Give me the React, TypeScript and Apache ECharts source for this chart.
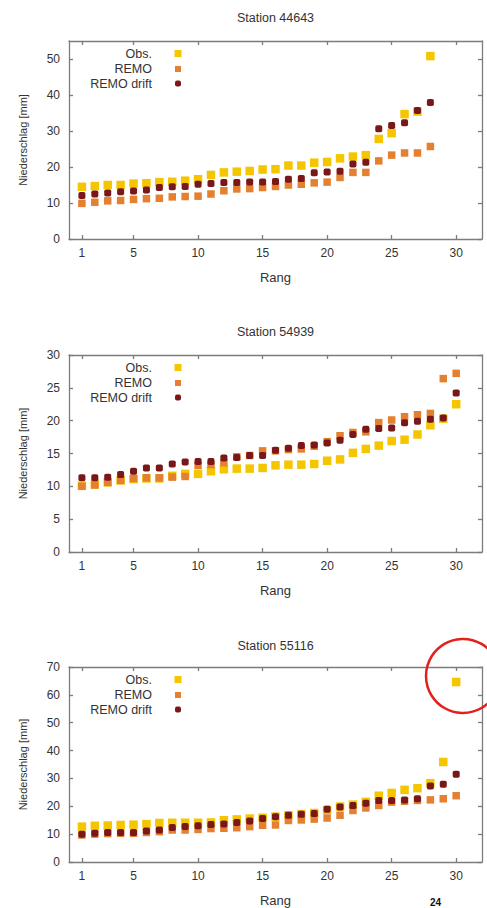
import React, { useEffect, useRef } from "react";
import * as echarts from "echarts";

const RANKS = [1, 2, 3, 4, 5, 6, 7, 8, 9, 10, 11, 12, 13, 14, 15, 16, 17, 18, 19, 20, 21, 22, 23, 24, 25, 26, 27, 28, 29, 30];
const X_TICKS = [1, 5, 10, 15, 20, 25, 30];
const SERIES_NAMES = ["Obs.", "REMO", "REMO drift"];
const TITLES = ["Station 44643", "Station 54939", "Station 55116"];
const X_NAME = "Rang";
const Y_NAME = "Niederschlag [mm]";

const Y_TICKS_1 = [0, 10, 20, 30, 40, 50];
const Y_TICKS_2 = [0, 5, 10, 15, 20, 25, 30];
const Y_TICKS_3 = [0, 10, 20, 30, 40, 50, 60, 70];
const Y_MAX = [55, 30, 70];

// Station 44643
const OBS_1 = [14.5, 14.7, 15.0, 15.0, 15.4, 15.5, 15.8, 15.9, 16.2, 16.6, 17.8, 18.5, 18.7, 18.9, 19.3, 19.4, 20.4, 20.4, 21.2, 21.4, 22.4, 22.9, 23.3, 27.8, 29.4, 34.7, 35.4, 50.8];
const REMO_1 = [9.9, 10.2, 10.6, 10.7, 11.0, 11.2, 11.3, 11.7, 11.8, 11.9, 12.5, 13.4, 13.9, 14.0, 14.3, 14.6, 15.0, 15.2, 15.6, 15.8, 17.1, 18.5, 18.5, 21.7, 23.3, 23.9, 23.9, 25.7];
const DRIFT_1 = [12.1, 12.5, 12.8, 13.1, 13.3, 13.6, 14.3, 14.5, 14.6, 15.2, 15.4, 15.7, 15.7, 15.8, 15.8, 16.0, 16.6, 16.8, 18.4, 18.6, 18.8, 20.8, 21.3, 30.6, 31.5, 32.3, 35.7, 37.9];

// Station 54939
const OBS_2 = [10.1, 10.3, 10.6, 10.9, 11.1, 11.2, 11.2, 11.6, 11.9, 11.9, 12.3, 12.6, 12.7, 12.7, 12.8, 13.2, 13.3, 13.3, 13.4, 13.9, 14.1, 15.1, 15.7, 16.2, 16.9, 17.1, 17.9, 19.3, 20.3, 22.5];
const REMO_2 = [10.0, 10.2, 10.6, 10.9, 11.2, 11.3, 11.3, 11.4, 11.5, 13.2, 13.3, 13.6, 14.5, 14.7, 15.4, 15.4, 15.6, 15.7, 16.1, 16.8, 17.7, 18.2, 18.3, 19.7, 20.1, 20.6, 20.9, 21.1, 26.4, 27.2];
const DRIFT_2 = [11.3, 11.3, 11.4, 11.8, 12.3, 12.8, 12.8, 13.4, 13.7, 13.8, 13.8, 14.3, 14.4, 14.7, 14.7, 15.5, 15.8, 16.2, 16.3, 16.6, 17.0, 17.9, 18.7, 18.8, 18.9, 19.7, 19.9, 20.2, 20.4, 24.2];

// Station 55116
const OBS_3 = [12.7, 13.0, 13.1, 13.3, 13.4, 13.6, 14.0, 14.1, 14.1, 14.1, 14.2, 15.0, 15.3, 15.6, 15.9, 16.3, 16.8, 17.2, 17.6, 18.7, 19.9, 20.6, 21.6, 23.8, 24.8, 25.9, 26.5, 28.3, 35.9, 64.6];
const REMO_3 = [9.7, 10.0, 10.2, 10.3, 10.3, 10.6, 10.9, 11.5, 11.5, 11.7, 12.0, 12.1, 12.3, 12.7, 13.2, 13.3, 14.9, 15.1, 15.4, 15.8, 16.8, 18.5, 19.4, 20.3, 21.5, 21.8, 22.1, 22.3, 22.7, 23.8];
const DRIFT_3 = [10.0, 10.3, 10.6, 10.6, 10.6, 11.1, 11.5, 12.4, 12.7, 13.0, 13.5, 13.6, 14.2, 14.7, 15.6, 16.2, 16.8, 17.1, 17.4, 18.9, 19.7, 20.3, 21.1, 22.1, 22.1, 22.3, 22.7, 27.3, 27.9, 31.5];

const PAGE_NUMBER = "24";

const STATIONS = [
  [OBS_1, REMO_1, DRIFT_1],
  [OBS_2, REMO_2, DRIFT_2],
  [OBS_3, REMO_3, DRIFT_3],
];
const Y_TICKS = [Y_TICKS_1, Y_TICKS_2, Y_TICKS_3];

const COLORS = ["#f5c600", "#e4802f", "#7a1719"];
const SYMBOLS = ["rect", "rect", "roundRect"];
const SIZES = [8.5, 7.5, 7];
const LEGEND_SIZES = [7, 6, 6];

const FONT = "'Liberation Sans', Arial, sans-serif";
const AXIS_COLOR = "#7c7c7c";
const TEXT_COLOR = "#333333";

const GRID_LEFT = 69;
const GRID_WIDTH = 413;
const GRID_TOPS = [41, 355, 667];
const GRID_HEIGHTS = [198, 197, 199];
const TITLE_TOPS = [11, 325, 639];
const LEGEND_OFFSETS = [12.5, 28, 42.5];

export default function App() {
  const ref = useRef<HTMLDivElement>(null);

  useEffect(() => {
    if (!ref.current) return;
    const chart = echarts.init(ref.current, undefined, { renderer: "svg" });

    const lineStyle = { color: AXIS_COLOR, width: 1.3 };
    const grids: any[] = [];
    const xAxes: any[] = [];
    const yAxes: any[] = [];
    const series: any[] = [];
    const titles: any[] = [];
    const graphics: any[] = [];

    for (let g = 0; g < 3; g++) {
      grids.push({
        left: GRID_LEFT,
        top: GRID_TOPS[g],
        width: GRID_WIDTH,
        height: GRID_HEIGHTS[g],
        containLabel: false,
      });
      titles.push({
        text: TITLES[g],
        left: GRID_LEFT + GRID_WIDTH / 2,
        textAlign: "center",
        top: TITLE_TOPS[g],
        padding: 0,
        textStyle: { fontSize: 12.5, fontWeight: "normal", color: TEXT_COLOR, fontFamily: FONT },
      });
      xAxes.push({
        type: "value",
        gridIndex: g,
        position: "bottom",
        min: 0,
        max: 32,
        name: X_NAME,
        nameLocation: "middle",
        nameGap: 32,
        nameTextStyle: { fontSize: 13, color: TEXT_COLOR, fontFamily: FONT },
        axisLine: { show: true, onZero: false, lineStyle },
        axisTick: { show: true, inside: true, length: 4, customValues: X_TICKS, lineStyle },
        axisLabel: { show: true, customValues: X_TICKS, fontSize: 12, color: TEXT_COLOR, margin: 8, fontFamily: FONT },
        splitLine: { show: false },
      });
      xAxes.push({
        type: "value",
        gridIndex: g,
        position: "top",
        min: 0,
        max: 32,
        axisLine: { show: true, onZero: false, lineStyle },
        axisTick: { show: true, inside: true, length: 4, customValues: X_TICKS, lineStyle },
        axisLabel: { show: false },
        splitLine: { show: false },
      });
      yAxes.push({
        type: "value",
        gridIndex: g,
        position: "left",
        min: 0,
        max: Y_MAX[g],
        name: Y_NAME,
        nameLocation: "middle",
        nameGap: 41,
        nameTextStyle: { fontSize: 11, color: TEXT_COLOR, fontFamily: FONT },
        axisLine: { show: true, onZero: false, lineStyle },
        axisTick: { show: true, inside: true, length: 4, customValues: Y_TICKS[g], lineStyle },
        axisLabel: { show: true, customValues: Y_TICKS[g], fontSize: 12, color: TEXT_COLOR, margin: 9, fontFamily: FONT },
        splitLine: { show: false },
      });
      yAxes.push({
        type: "value",
        gridIndex: g,
        position: "right",
        min: 0,
        max: Y_MAX[g],
        axisLine: { show: true, onZero: false, lineStyle },
        axisTick: { show: true, inside: true, length: 4, customValues: Y_TICKS[g], lineStyle },
        axisLabel: { show: false },
        splitLine: { show: false },
      });

      for (let s = 0; s < 3; s++) {
        const vals = STATIONS[g][s];
        series.push({
          type: "scatter",
          name: SERIES_NAMES[s],
          xAxisIndex: g * 2,
          yAxisIndex: g * 2,
          symbol: SYMBOLS[s],
          symbolSize: SIZES[s],
          itemStyle: { color: COLORS[s], opacity: 1 },
          data: vals.map((v, i) => [RANKS[i], v]),
          z: 2 + s,
        });
        const cy = GRID_TOPS[g] + LEGEND_OFFSETS[s];
        const ls = LEGEND_SIZES[s];
        graphics.push({
          type: "text",
          x: 152,
          y: cy,
          style: {
            text: SERIES_NAMES[s],
            align: "right",
            verticalAlign: "middle",
            fontSize: 12.5,
            fill: TEXT_COLOR,
            fontFamily: FONT,
          },
        });
        graphics.push({
          type: "rect",
          shape: { x: 178 - ls / 2, y: cy - ls / 2, width: ls, height: ls, r: s === 2 ? 2 : 0 },
          style: { fill: COLORS[s] },
        });
      }
    }

    graphics.push({
      type: "circle",
      shape: { cx: 463, cy: 676, r: 37 },
      style: { fill: "none", stroke: "#e3201b", lineWidth: 2.5 },
      z: 100,
    });
    graphics.push({
      type: "text",
      x: 430,
      y: 907,
      style: {
        text: PAGE_NUMBER,
        fontSize: 10,
        fontWeight: "bold",
        fill: "#111",
        fontFamily: FONT,
        verticalAlign: "bottom",
      },
    });

    chart.setOption({
      animation: false,
      backgroundColor: "#ffffff",
      textStyle: { fontFamily: FONT },
      title: titles,
      grid: grids,
      xAxis: xAxes,
      yAxis: yAxes,
      series,
      graphic: graphics,
    });

    return () => chart.dispose();
  }, []);

  return (
    <div
      ref={ref}
      style={{ position: "absolute", left: 0, top: 0, width: 487, height: 908 }}
    />
  );
}
